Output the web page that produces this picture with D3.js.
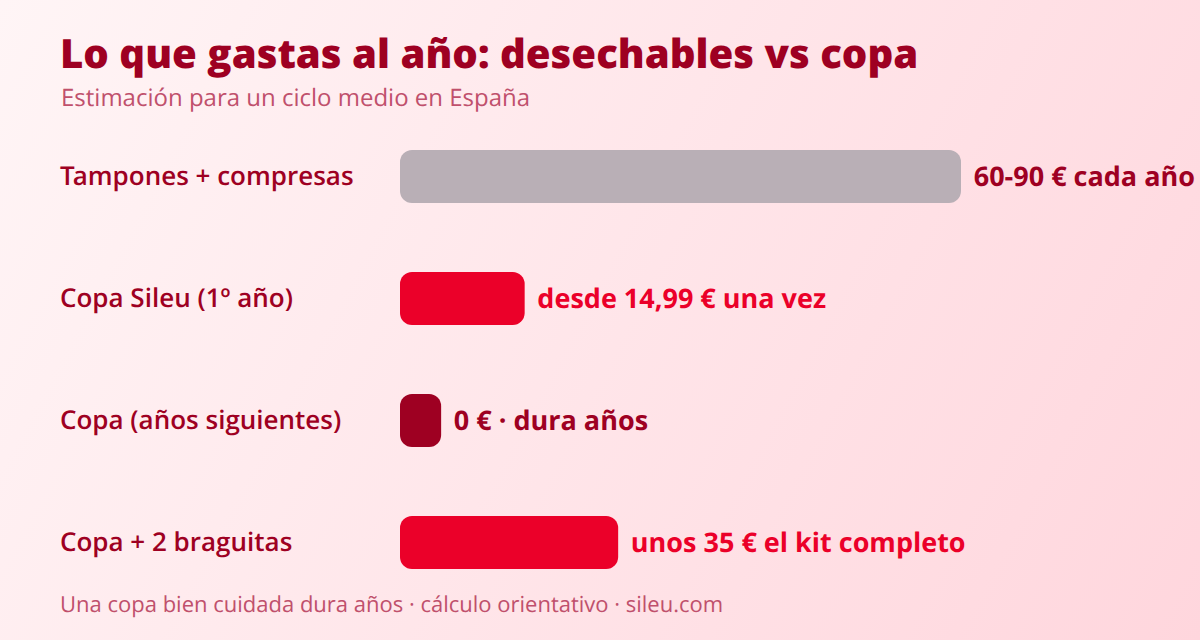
<!DOCTYPE html>
<html>
<head>
<meta charset="utf-8">
<script src="https://cdn.jsdelivr.net/npm/d3@7"></script>
<style>
html, body { margin: 0; padding: 0; }
body { width: 1200px; height: 640px; overflow: hidden; }
text { font-family: "Open Sans", sans-serif; text-rendering: geometricPrecision; }
</style>
</head>
<body>
<div id="chart"></div>
<script>
const categories = ["Tampones + compresas", "Copa Sileu (1º año)", "Copa (años siguientes)", "Copa + 2 braguitas"];
const barValues = [90, 20, 6.6, 35];
const valueLabels = ["60-90 € cada año", "desde 14,99 € una vez", "0 € · dura años", "unos 35 € el kit completo"];
const barColors = ["#b9afb6", "#eb0029", "#9e0022", "#eb0029"];
const labelColors = ["#9e0022", "#eb0029", "#9e0022", "#eb0029"];

const width = 1200;
const height = 640;

const svg = d3.select("#chart")
    .append("svg")
    .attr("width", width)
    .attr("height", height)
    .style("display", "block");

const defs = svg.append("defs");
const gradient = defs.append("linearGradient")
    .attr("id", "bg")
    .attr("gradientUnits", "userSpaceOnUse")
    .attr("x1", 0).attr("y1", 0)
    .attr("x2", width).attr("y2", height);
gradient.append("stop").attr("offset", "0%").attr("stop-color", "#fff5f6");
gradient.append("stop").attr("offset", "100%").attr("stop-color", "#ffd6dd");

svg.append("rect")
    .attr("width", width)
    .attr("height", height)
    .attr("fill", "url(#bg)");

svg.append("text")
    .attr("x", 60).attr("y", 68)
    .attr("font-size", 40.15)
    .attr("font-weight", 800)
    .attr("fill", "#9e0022")
    .text("Lo que gastas al año: desechables vs copa");

svg.append("text")
    .attr("x", 61).attr("y", 106)
    .attr("font-size", 24)
    .attr("fill", "#c0506c")
    .text("Estimación para un ciclo medio en España");

const x = d3.scaleLinear().domain([0, 90]).range([400, 961]);
const y = d3.scaleBand()
    .domain(categories)
    .range([150, 569])
    .paddingInner(0.565)
    .paddingOuter(0);

svg.selectAll("rect.bar")
    .data(categories)
    .enter()
    .append("rect")
    .attr("class", "bar")
    .attr("x", x(0))
    .attr("y", d => y(d))
    .attr("width", (d, i) => x(barValues[i]) - x(0))
    .attr("height", y.bandwidth())
    .attr("rx", 12)
    .attr("fill", (d, i) => barColors[i]);

svg.selectAll("text.cat")
    .data(categories)
    .enter()
    .append("text")
    .attr("class", "cat")
    .attr("x", 60)
    .attr("dx", d => d.startsWith("Ta") ? "0 -2" : null) // T-a kerning
    .attr("y", d => y(d) + y.bandwidth() / 2 + 8.5)
    .attr("font-size", 26)
    .attr("font-weight", 600)
    .attr("fill", "#9e0022")
    .text(d => d);

svg.selectAll("text.val")
    .data(categories)
    .enter()
    .append("text")
    .attr("class", "val")
    .attr("x", (d, i) => x(barValues[i]) + 12.7)
    .attr("y", d => y(d) + y.bandwidth() / 2 + 9.5)
    .attr("font-size", 27)
    .attr("font-weight", 700)
    .attr("fill", (d, i) => labelColors[i])
    .text((d, i) => valueLabels[i]);

svg.append("text")
    .attr("x", 60).attr("y", 612)
    .attr("font-size", 22)
    .attr("fill", "#c0506c")
    .text("Una copa bien cuidada dura años · cálculo orientativo · sileu.com");
</script>
</body>
</html>
